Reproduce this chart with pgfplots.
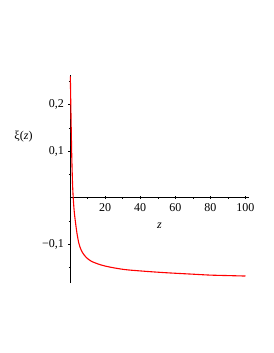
\documentclass[border=0pt]{standalone}
\usepackage{pgfplots}
\pgfplotsset{compat=1.18}
\usepackage{fontspec}
\setmainfont{Liberation Serif}
\begin{document}
\begin{tikzpicture}[x=1pt,y=1pt]
\useasboundingbox[fill=white] (0,0) rectangle (273,353);
\begin{axis}[
  at={(70pt,155.3pt)}, anchor=origin,
  scale only axis, width=179pt, height=208pt,
  xmin=0, xmax=102, ymin=-0.183, ymax=0.263,
  axis lines=middle, axis line style={-, black, line width=0.5pt},
  clip=false,
  xtick={20,40,60,80,100},
  minor xtick={10,30,50,70,90},
  ytick={-0.1,0.1,0.2},
  yticklabels={{−0,1},{0,1},{0,2}},
  minor ytick={-0.15,-0.05,0.05,0.15,0.25},
  major tick length=3pt, minor tick length=2pt,
  tick style={black, line width=0.4pt},
  tick label style={font=\fontsize{12}{14}\selectfont},
  /pgf/number format/assume math mode=true,
  xticklabel style={yshift=-1pt},
  yticklabel style={xshift=-1pt},
]
\addplot[red, line width=1.1pt, smooth] coordinates {
(0.2,0.26) (0.5,0.19) (1.0,0.09) (1.5,0.025) (2.0,-0.01) (2.5,-0.033)
(3.3,-0.058) (4,-0.077) (5,-0.097) (6,-0.109) (7,-0.117) (9,-0.127)
(12,-0.136) (17.5,-0.144) (23,-0.149) (31,-0.154) (40,-0.157) (51,-0.160)
(60,-0.162) (70,-0.164) (80,-0.166) (90,-0.167) (100,-0.168)
};
\node[font=\fontsize{12}{14}\selectfont] at (axis cs:-26.5,0.132) {ξ(\textit{z})};
\node[font=\fontsize{12}{14}\selectfont] at (axis cs:51,-0.061) {\textit{z}};
\end{axis}
\end{tikzpicture}
\end{document}
